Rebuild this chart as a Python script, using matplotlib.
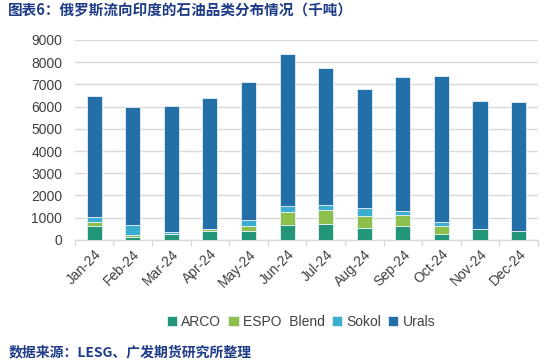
import matplotlib
matplotlib.use("Agg")
import matplotlib.pyplot as plt
import numpy as np

plt.rcParams['font.family'] = ['Liberation Sans', 'Noto Sans CJK SC', 'DejaVu Sans']

months = ["Jan-24", "Feb-24", "Mar-24", "Apr-24", "May-24", "Jun-24",
          "Jul-24", "Aug-24", "Sep-24", "Oct-24", "Nov-24", "Dec-24"]
arco = [630, 150, 270, 400, 420, 660, 705, 540, 630, 255, 480, 405]
espo = [195, 75, 0, 110, 210, 585, 645, 525, 480, 360, 0, 0]
sokol = [225, 450, 90, 0, 270, 285, 225, 375, 180, 195, 0, 0]
urals = [5430, 5310, 5670, 5865, 6225, 6840, 6180, 5370, 6030, 6585, 5775, 5790]

series = [("ARCO", arco, "#23967a"), ("ESPO  Blend", espo, "#8dbf4c"),
          ("Sokol", sokol, "#3badd0"), ("Urals", urals, "#236fa8")]

fig = plt.figure(figsize=(5.5, 3.63), dpi=100)
ax = fig.add_axes([0.136, 0.339, 0.842, 0.551])

x = np.arange(len(months))
bottom = np.zeros(len(months))
handles = []
for name, vals, col in series:
    v = np.array(vals, dtype=float)
    b = ax.bar(x, v, width=0.39, bottom=bottom, color=col, edgecolor="#e8f0f6",
               linewidth=0.6, label=name, zorder=3)
    handles.append(b)
    bottom += v

ax.set_ylim(0, 9000)
ax.set_xlim(-0.5, len(months) - 0.5)
ax.set_yticks(np.arange(0, 9001, 1000))
ax.yaxis.grid(True, color="#d9d9d9", linewidth=1.0, zorder=0)
ax.set_axisbelow(True)
for s in ["top", "right", "left"]:
    ax.spines[s].set_visible(False)
ax.spines["bottom"].set_color("#d9d9d9")
ax.spines["bottom"].set_linewidth(1.0)
ax.tick_params(axis="y", length=0, pad=9, labelsize=10, labelcolor="#404040")
ax.set_xticks(x)
ax.set_xticklabels(months, rotation=45, ha="right", rotation_mode="anchor",
                   fontsize=10, color="#404040")
ax.tick_params(axis="x", length=0, pad=5)
ax.set_xticks(np.arange(-0.5, len(months), 1), minor=True)
ax.tick_params(axis="x", which="minor", length=4, color="#d9d9d9", width=1.0)

fig.legend(handles=handles, labels=[s[0] for s in series], loc="center",
           bbox_to_anchor=(0.547, 0.113), ncol=4, frameon=False, fontsize=10,
           handlelength=0.75, handleheight=0.75, handletextpad=0.3,
           columnspacing=0.5, labelcolor="#404040")

fig.text(0.015, 0.972, "图表6：俄罗斯流向印度的石油品类分布情况（千吨）",
         fontsize=10.5, fontweight="bold", color="#1f3c88",
         family=["Noto Sans CJK SC", "DejaVu Sans"], va="center", ha="left")
fig.text(0.015, 0.028, "数据来源：LESG、广发期货研究所整理",
         fontsize=10, fontweight="bold", color="#1f3c88",
         family=["Noto Sans CJK SC", "DejaVu Sans"], va="center", ha="left")

fig.savefig("out.png", dpi=100)
